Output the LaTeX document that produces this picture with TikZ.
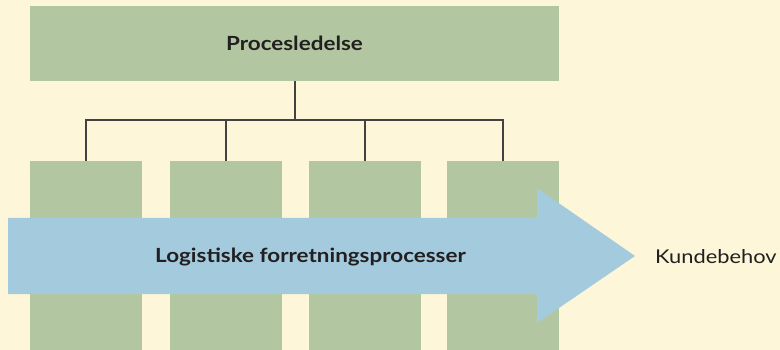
\documentclass[tikz,border=0pt]{standalone}
\usepackage{fontspec}
\setmainfont{Lato}[FakeStretch=1.15]
\definecolor{bg}{HTML}{FDF6D8}
\definecolor{grn}{HTML}{B2C7A1}
\definecolor{blu}{HTML}{A3CBDD}
\definecolor{txt}{HTML}{231F20}
\begin{document}
\begin{tikzpicture}[x=1pt,y=-1pt,
  box/.style={fill=grn,draw=none,inner sep=0pt},
  conn/.style={draw=txt!85,line width=1.2pt},
  lbl/.style={text=txt,font=\fontsize{19.5}{22}\selectfont\bfseries}]
\fill[bg] (0,0) rectangle (780,350);
\useasboundingbox (0,0) rectangle (780,350);
\node[box,minimum width=529pt,minimum height=75pt,lbl] (top) at (294.5,43.5) {Procesledelse};
\foreach \i/\x in {1/86,2/226,3/365,4/503}{
  \node[box,minimum width=112pt,minimum height=190pt,anchor=north] (c\i) at (\x,161) {};
}
\coordinate (hub) at (295,120);
\draw[conn] (top.south -| hub) -- (hub);
\draw[conn] (c1.north) |- (hub) -| (c4.north);
\draw[conn] (c2.north) -- (c2.north |- hub);
\draw[conn] (c3.north) -- (c3.north |- hub);
\fill[blu] (8,218) -- (537,218) -- (537,188) -- (635,256) -- (537,323) -- (537,294) -- (8,294) -- cycle;
\node[lbl] (proc) at (310.5,257) {Logistiske forretningsprocesser};
\node[text=txt,font=\fontsize{19}{22}\selectfont,anchor=west,inner sep=0pt] (kunde) at (655,257) {Kundebehov};
\end{tikzpicture}
\end{document}
